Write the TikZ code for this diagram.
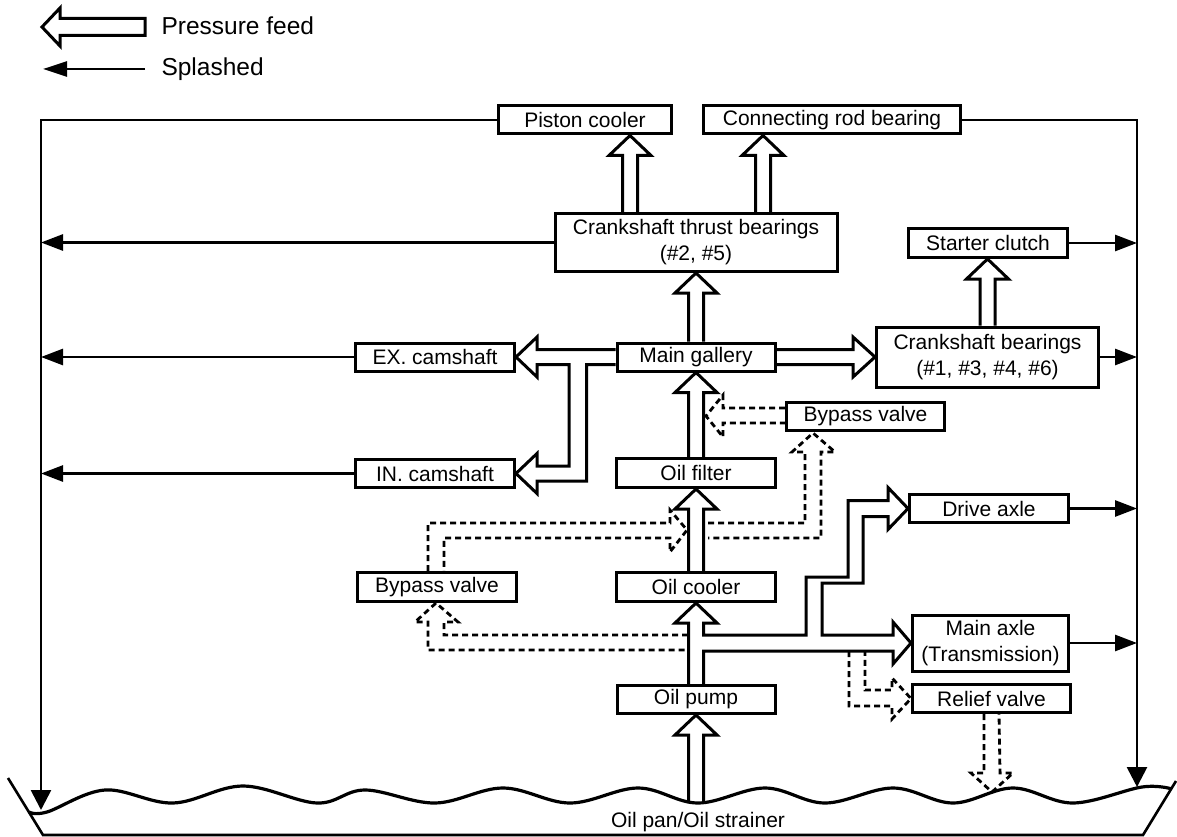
\documentclass[tikz,border=0pt]{standalone}
\usepackage{fontspec}
\setmainfont{Liberation Sans}
\usetikzlibrary{calc,arrows.meta}
\newcommand\HolUp[3]{%
  \draw[hol] ($(#1)+(#3-7.5,0)$) -- ($(#2 -| #1)+(#3-7.5,20)$) -- ++(-13.5,0)
    -- ($(#2 -| #1)+(#3,0)$) -- ++(21,20) -- ++(-13.5,0) -- ($(#1)+(#3+7.5,0)$);}
\begin{document}
\begin{tikzpicture}[x=1pt,y=-1pt,
  box/.style={draw,line width=3pt,inner sep=0pt,font=\fontsize{21}{26}\selectfont,align=center},
  hol/.style={line width=3pt,line join=miter},
  dsh/.style={line width=2.8pt,dash pattern=on 6pt off 4pt,line join=miter},
  spl/.style={line width=2.7pt,-{Triangle[length=22pt,width=16pt]}},
  splv/.style={line width=2.7pt,-{Triangle[length=20pt,width=20pt]}},
  lgd/.style={anchor=base west,font=\fontsize{24.5}{29}\selectfont}]
\useasboundingbox (0,0) rectangle (1177,837);

% legend
\draw[hol] (145,18.5) -- (60,18.5) -- (60,8) -- (42,27) -- (60,46) -- (60,35.5) -- (145,35.5) -- cycle;
\node[lgd] (lp) at (158,35) {Pressure feed};
\draw[line width=2.7pt,-{Triangle[length=24pt,width=15pt]}] (145,69) -- (43,69);
\node[lgd] (ls) at (158,76) {Splashed};

% boxes
\node[box,minimum width=173pt,minimum height=28pt] (pc) at (585,120) {Piston cooler};
\node[box,minimum width=257pt,minimum height=28pt] (crb) at (832,120) {Connecting rod bearing};
\node[box,minimum width=282pt,minimum height=58pt] (ctb) at (696,242.5) {Crankshaft thrust bearings\\(\#2, \#5)};
\node[box,minimum width=159pt,minimum height=29pt] (sc) at (988,243) {Starter clutch};
\node[box,minimum width=222pt,minimum height=60pt] (cb) at (987.5,357) {Crankshaft bearings\\(\#1, \#3, \#4, \#6)};
\node[box,minimum width=158pt,minimum height=28pt] (mg) at (696,357) {Main gallery};
\node[box,minimum width=159pt,minimum height=28pt] (ex) at (435,357) {EX. camshaft};
\node[box,minimum width=159pt,minimum height=28pt] (in) at (435,473.5) {IN. camshaft};
\node[box,minimum width=158pt,minimum height=28pt] (bv1) at (865.5,416.5) {Bypass valve};
\node[box,minimum width=159pt,minimum height=29pt] (of) at (696,473) {Oil filter};
\node[box,minimum width=159pt,minimum height=28pt] (da) at (989,508.5) {Drive axle};
\node[box,minimum width=159pt,minimum height=29pt] (bv2) at (437,587) {Bypass valve};
\node[box,minimum width=159pt,minimum height=29pt] (oc) at (696,587) {Oil cooler};
\node[box,minimum width=156pt,minimum height=56pt] (ma) at (990.5,643) {Main axle\\(Transmission)};
\node[box,minimum width=158pt,minimum height=28pt] (rv) at (991.5,698.5) {Relief valve};
\node[box,minimum width=158pt,minimum height=28pt] (op) at (696,699.5) {Oil pump};

% oil pan
\coordinate (Lbot) at (41,810);
\coordinate (Rbot) at (1137,787);
\coordinate (pantop) at (696,803);
\draw[line width=2.6pt] (8,778) -- (43,835) -- (1143,835) -- (1176,781);
\draw[line width=3.2pt] plot[smooth,tension=0.6] coordinates {(29,812) (47,812) (105,790) (173,803) (243,786) (317,803) (365,790) (435,803) (503,788) (570,803) (638,788) (698,803) (765,788) (825,803) (893,788) (953,803) (1013,788) (1073,803) (1142,787) (1172,789)};
\node[font=\fontsize{21}{26}\selectfont] (pantxt) at (698,822) {Oil pan/Oil strainer};

% splashed
\draw[splv] (pc.west) -- (pc.west -| Lbot) -- (Lbot);
\draw[splv] (crb.east) -- (crb.east -| Rbot) -- (Rbot);
\draw[spl] (ctb.west) -- (ctb.west -| Lbot);
\draw[spl] (ex.west) -- (ex.west -| Lbot);
\draw[spl] (in.west) -- (in.west -| Lbot);
\draw[spl] (sc.east) -- (sc.east -| Rbot);
\draw[spl] (cb.east) -- (cb.east -| Rbot);
\draw[spl] (da.east) -- (da.east -| Rbot);
\draw[spl] (ma.east) -- (ma.east -| Rbot);

% pressure feed
\HolUp{ctb.north}{pc.south}{-66}
\HolUp{ctb.north}{crb.south}{67}
\HolUp{mg.north}{ctb.south}{0}
\HolUp{cb.north}{sc.south}{0}
\HolUp{of.north}{mg.south}{0}
\HolUp{oc.north}{of.south}{0}
\HolUp{pantop}{op.south}{0}
\draw[hol] ($(mg.east)+(0,-7.5)$) -- ($(cb.west |- mg.east)+(-22,-7.5)$) -- ++(0,-12.5)
  -- (cb.west |- mg.east) -- ++(-22,20) -- ++(0,-12.5) -- ($(mg.east)+(0,7.5)$);
\draw[hol] ($(mg.west)+(0,-7.5)$) -- ($(ex.east)+(21,-7.5)$) -- ++(0,-12.5) -- (ex.east)
  -- ++(21,20) -- ++(0,-12.5) -| ($(in.east)+(53,-7.5)$) -- ++(-32,0) -- ++(0,-12.5)
  -- (in.east) -- ++(21,20) -- ++(0,-12.5) -| ($(mg.west)+(-29,7.5)$) -- ($(mg.west)+(0,7.5)$);
\draw[hol] ($(op.north)+(-7.5,0)$) -- ($(oc.south)+(-7.5,20)$) -- ++(-13.5,0) -- (oc.south)
  -- ++(21,20) -- ++(-13.5,0) -- (703.5,635) -- (806,635) -- (806,577) -- (848,577)
  |- ($(da.west)+(-20,-8)$) -- ++(0,-13) -- (da.west) -- ++(-20,21) -- ++(0,-13)
  -| (863,583) -- (822,583) |- ($(ma.west)+(-18,-8)$) -- ++(0,-13) -- (ma.west)
  -- ++(-18,21) -- ++(0,-13) -| ($(op.north)+(7.5,0)$);

% bypass / relief (dashed)
\draw[dsh] ($(bv1.west)+(0,-8.5)$) -- (723,408) -- (723,395) -- (706,416) -- (723,437) -- (723,423) -- ($(bv1.west)+(0,6.5)$);
\draw[dsh] (708,523) -- (805,523) -- (805,452) -- (792,452) -- (813,433) -- (835,452) -- (821,452) -- (821,538) -- (708,538);
\draw[dsh] ($(bv2.north)+(-9,0)$) |- (670,523) -- (670,510) -- (687,530) -- (670,552) -- (670,538) -| ($(bv2.north)+(7,0)$);
\draw[dsh] (688,635) -| (444,622) -- (458,622) -- ($(bv2.south)+(-1,0)$) -- (415,622) -- (428,622) |- (688,650);
\draw[dsh] (849,651) |- (892,706) -- (892,719) -- (rv.west) -- (892,678) -- (892,690) -| (865,651);
\draw[dsh] ($(rv.south)+(-7.5,0)$) -- ++(0,59) -- ++(-13,0) -- ++(21,19) -- ++(21,-19) -- ++(-13,0) -- ($(rv.south)+(7.5,0)$);
\end{tikzpicture}
\end{document}
